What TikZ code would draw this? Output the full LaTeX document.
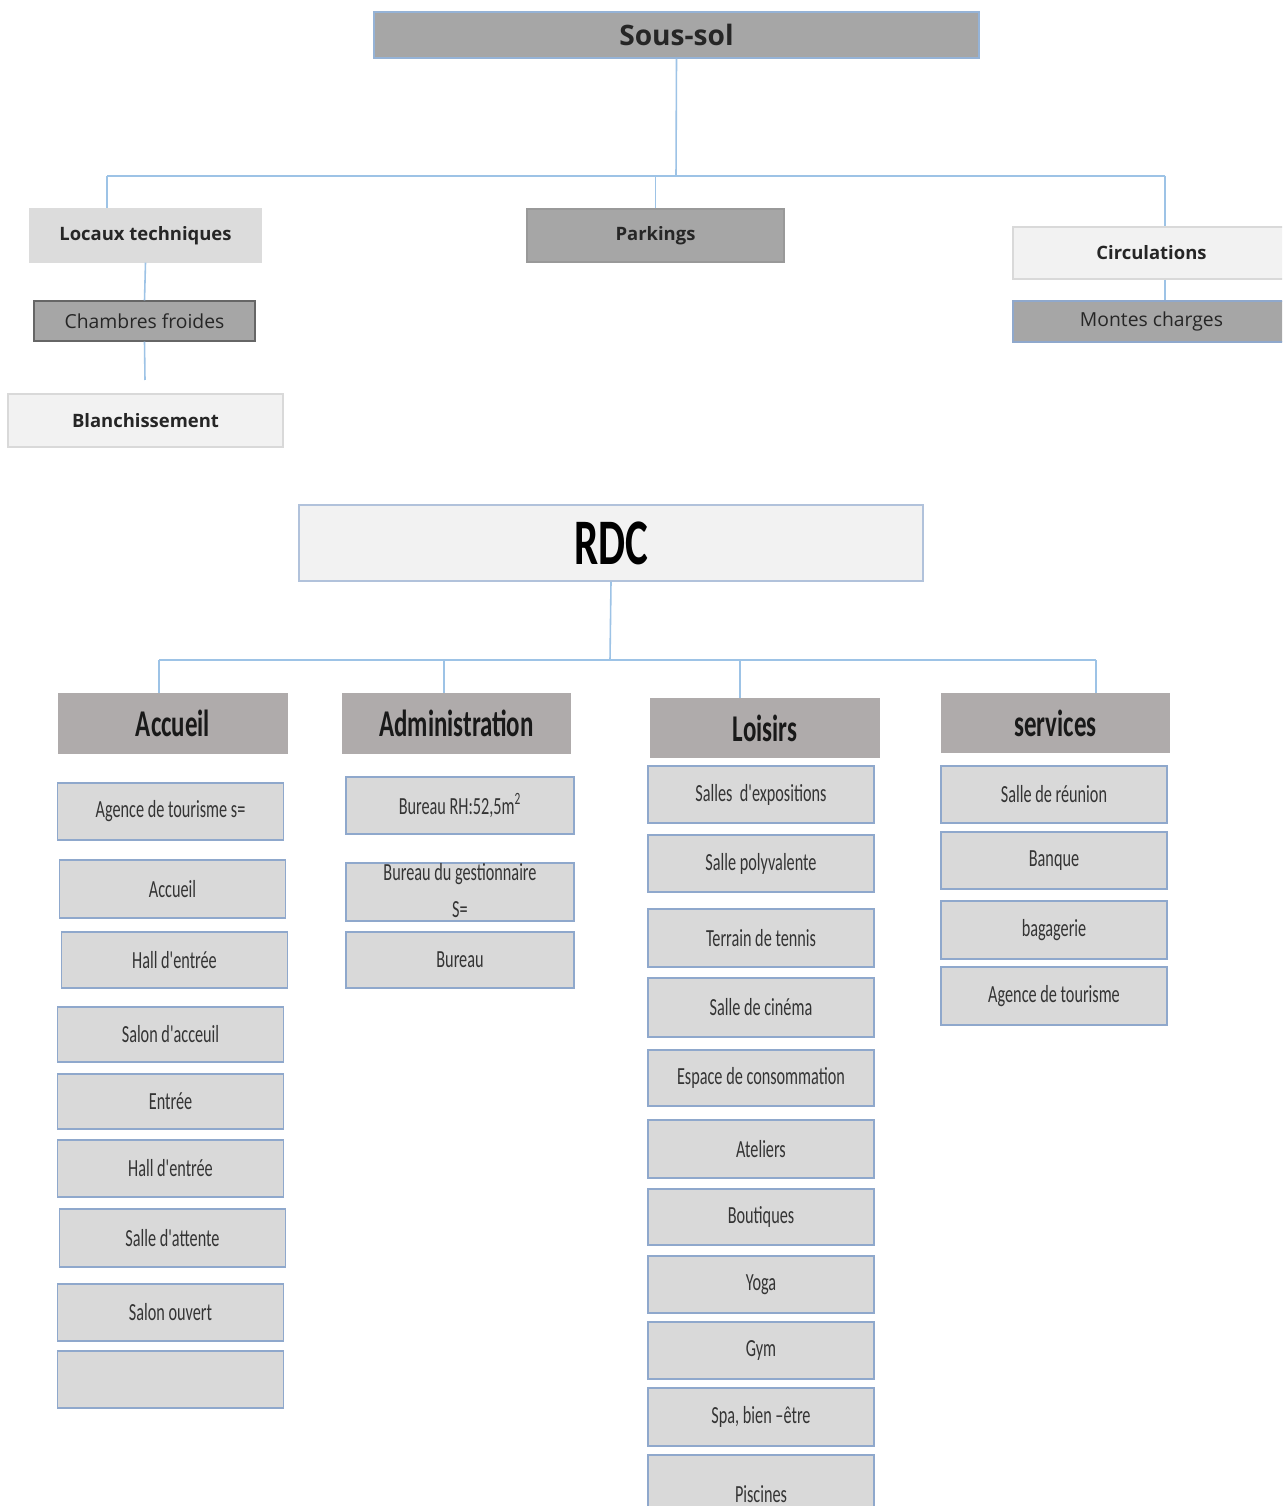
\documentclass[tikz,border=0pt]{standalone}
\usepackage{fontspec}
\usepackage{xcolor}
\definecolor{ssgray}{RGB}{166,166,166}
\definecolor{sslight}{RGB}{220,220,220}
\definecolor{sspale}{RGB}{242,242,242}
\definecolor{ssedge}{RGB}{149,179,215}
\definecolor{rdcwarm}{RGB}{175,171,171}
\definecolor{rdcitem}{RGB}{217,217,217}
\definecolor{rdcedge}{RGB}{143,168,204}
\definecolor{linkblue}{RGB}{157,195,230}
\definecolor{txtgray}{RGB}{52,52,52}
\newfontfamily\opensans{Open Sans}
\newfontfamily\condsans[FakeStretch=0.66]{Carlito}
\usetikzlibrary{positioning,calc}

\begin{document}
\begin{tikzpicture}[x=0.02cm, y=-0.02cm,
  ssbox/.style={
    rectangle, inner sep=0pt,
    draw=ssedge, line width=0.8pt,
    font=\opensans\bfseries\fontsize{10.5}{12}\selectfont,
    text=black!85
  },
  ssthin/.style={ssbox, font=\opensans\fontsize{11}{13}\selectfont},
  headbox/.style={
    rectangle, inner sep=0pt,
    fill=rdcwarm,
    minimum width=4.6cm, minimum height=1.22cm,
    font=\condsans\bfseries\fontsize{21.5}{24}\selectfont,
    text=black!90
  },
  itembox/.style={
    rectangle, inner sep=0pt,
    fill=rdcitem, draw=rdcedge, line width=1pt,
    minimum width=4.52cm, minimum height=1.14cm,
    font=\condsans\fontsize{14}{16}\selectfont,
    text=txtgray
  },
  conn/.style={draw=linkblue, line width=0.9pt}
]
\clip (0,0) rectangle (1282,1506);
\fill[white] (0,0) rectangle (1282,1506);

% Sous-sol
\node[ssbox, fill=ssgray, minimum width=12.1cm, minimum height=0.92cm,
  font=\opensans\bfseries\fontsize{16}{19}\selectfont] (soussol) at (676.5,35) {Sous-sol};
\node[ssbox, fill=sslight, draw=sslight, minimum width=4.62cm, minimum height=1.06cm] (locaux) at (145.5,235.5) {Locaux techniques};
\node[ssthin, fill=ssgray, draw=black!60, minimum width=4.42cm, minimum height=0.8cm] (chambres) at (144.5,321) {Chambres froides};
\node[ssbox, fill=sspale, draw=black!15, minimum width=5.5cm, minimum height=1.06cm] (blanch) at (145.5,420.5) {Blanchissement};
\node[ssbox, fill=ssgray, draw=black!40, minimum width=5.14cm, minimum height=1.06cm] (parkings) at (655.5,235.5) {Parkings};
\node[ssbox, fill=sspale, draw=black!15, minimum width=5.54cm, minimum height=1.04cm] (circ) at (1151.5,253) {Circulations};
\node[ssthin, fill=ssgray, draw=rdcedge, minimum width=5.54cm, minimum height=0.82cm] (montes) at (1151.5,321.5) {Montes charges};

\coordinate (ssmid) at (676,176);
\coordinate (ssleft) at (107,176);
\coordinate (ssright) at (1165,176);
\coordinate (blanchend) at (145,380);
\draw[conn] (soussol.south) -- (ssmid);
\draw[conn] (ssleft) -- (ssright);
\draw[conn] (ssleft) -- (ssleft |- locaux.north);
\draw[conn] (parkings.north) -- (parkings.north |- ssmid);
\draw[conn] (ssright) -- (ssright |- circ.north);
\draw[conn] (locaux.south) -- (chambres.north);
\draw[conn] (chambres.south) -- (blanchend);
\draw[conn] (circ.south -| ssright) -- (montes.north -| ssright);

% RDC
\node[rectangle, inner sep=0pt, fill=sspale, draw=rdcedge!70, line width=0.8pt,
  minimum width=12.48cm, minimum height=1.52cm,
  font=\condsans\bfseries\fontsize{37}{40}\selectfont] (rdc) at (611,543) {RDC};

\node[headbox] (accueil) at (173,723.5) {Accueil};
\node[headbox] (admin) at (456.5,723.5) {Administration};
\node[headbox, minimum height=1.2cm] (loisirs) at (765,728) {Loisirs};
\node[headbox, minimum height=1.2cm] (services) at (1055.5,723) {services};

\coordinate (rdcbus) at (610,660);
\coordinate (busleft) at (159,660);
\coordinate (busadmin) at (444,660);
\coordinate (busloisirs) at (740,660);
\coordinate (busright) at (1096,660);
\draw[conn] (rdc.south) -- (rdcbus);
\draw[conn] (busleft) -- (busright);
\draw[conn] (busleft) -- (busleft |- accueil.north);
\draw[conn] (busadmin) -- (busadmin |- admin.north);
\draw[conn] (busloisirs) -- (busloisirs |- loisirs.north);
\draw[conn] (busright) -- (busright |- services.north);

\node[itembox] (acc1) at (170.5,811.5) {Agence de tourisme s=};
\node[itembox, minimum height=1.16cm] (acc2) at (172.5,889) {Accueil};
\node[itembox, minimum height=1.12cm] (acc3) at (174.5,960) {Hall d'entrée};
\node[itembox, minimum height=1.1cm] (acc4) at (170.5,1034.5) {Salon d'acceuil};
\node[itembox, minimum height=1.1cm] (acc5) at (170.5,1101.5) {Entrée};
\node[itembox] (acc6) at (170.5,1168.5) {Hall d'entrée};
\node[itembox, minimum height=1.16cm] (acc7) at (172.5,1238) {Salle d'attente};
\node[itembox] (acc8) at (170.5,1312.5) {Salon ouvert};
\node[itembox] (acc9) at (170.5,1379.5) {};

\node[itembox, minimum width=4.56cm] (adm1) at (460,805.5) {Bureau RH:52,5m\textsuperscript{2}};
\node[itembox, minimum width=4.56cm, minimum height=1.16cm] (adm2) at (460,892)
  {\smash{\raisebox{-0.16cm}{\begin{tabular}{@{}c@{}}Bureau du gestionnaire\\[5pt]S=\end{tabular}}}};
\node[itembox, minimum width=4.56cm, minimum height=1.12cm] (adm3) at (460,960) {Bureau};

\node[itembox] (lo1) at (761,794.5) {Salles\ \ d'expositions};
\node[itembox] (lo2) at (761,863.5) {Salle polyvalente};
\node[itembox, minimum height=1.16cm] (lo3) at (761,938) {Terrain de tennis};
\node[itembox, minimum height=1.18cm] (lo4) at (761,1007.5) {Salle de cinéma};
\node[itembox, minimum height=1.12cm] (lo5) at (761,1078) {Espace de consommation};
\node[itembox, minimum height=1.16cm] (lo6) at (761,1149) {Ateliers};
\node[itembox, minimum height=1.12cm] (lo7) at (761,1217) {Boutiques};
\node[itembox] (lo8) at (761,1284.5) {Yoga};
\node[itembox] (lo9) at (761,1350.5) {Gym};
\node[itembox, minimum height=1.16cm] (lo10) at (761,1417) {Spa, bien –être};
\node[itembox, minimum height=1.56cm] (lo11) at (761,1494) {Piscines};

\node[itembox] (sv1) at (1054,794.5) {Salle de réunion};
\node[itembox] (sv2) at (1054,860.5) {Banque};
\node[itembox, minimum height=1.16cm] (sv3) at (1054,930) {bagagerie};
\node[itembox, minimum height=1.16cm] (sv4) at (1054,996) {Agence de tourisme};
\end{tikzpicture}
\end{document}
